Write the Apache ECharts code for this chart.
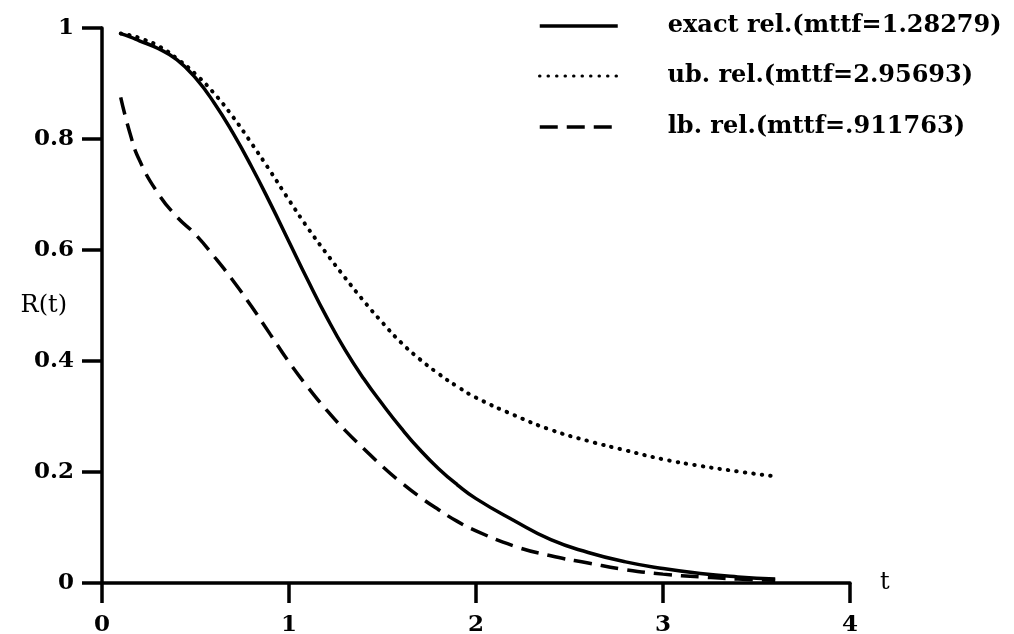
<!DOCTYPE html>
<html>
<head>
<meta charset="utf-8">
<script src="https://cdn.jsdelivr.net/npm/echarts@6/dist/echarts.min.js"></script>
<style>
  html, body { margin: 0; padding: 0; background: #fff; }
  #main { width: 1014px; height: 634px; }
</style>
</head>
<body>
<div id="main"></div>
<script>
// time points t
var tValues  = [0.1, 0.15, 0.2, 0.3, 0.4, 0.5, 0.6, 0.7, 0.8, 0.9, 1.0, 1.1, 1.2, 1.3, 1.4, 1.5, 1.6, 1.7, 1.8, 1.9, 2.0, 2.2, 2.4, 2.6, 2.8, 3.0, 3.2, 3.4, 3.6];
// exact reliability
var exactRel = [0.99, 0.984, 0.977, 0.963, 0.943, 0.91, 0.865, 0.811, 0.75, 0.684, 0.615, 0.546, 0.48, 0.42, 0.368, 0.322, 0.279, 0.24, 0.206, 0.177, 0.152, 0.113, 0.078, 0.055, 0.038, 0.026, 0.017, 0.011, 0.007];
// upper bound
var ubRel    = [0.99, 0.987, 0.982, 0.968, 0.945, 0.917, 0.882, 0.84, 0.792, 0.742, 0.69, 0.64, 0.594, 0.55, 0.508, 0.469, 0.433, 0.403, 0.377, 0.354, 0.334, 0.303, 0.276, 0.256, 0.239, 0.223, 0.211, 0.201, 0.192];
// lower bound
var lbRel    = [0.875, 0.81, 0.762, 0.702, 0.66, 0.628, 0.588, 0.545, 0.498, 0.448, 0.398, 0.353, 0.312, 0.275, 0.242, 0.21, 0.181, 0.155, 0.132, 0.111, 0.094, 0.067, 0.049, 0.036, 0.024, 0.016, 0.011, 0.007, 0.005];

var names = ['exact rel.(mttf=1.28279)', 'ub. rel.(mttf=2.95693)', 'lb. rel.(mttf=.911763)'];

function pairs(ys) {
    var out = [];
    for (var i = 0; i < tValues.length; i++) {
        out.push([tValues[i], ys[i]]);
    }
    return out;
}

var font = 'DejaVu Serif';
var chart = echarts.init(document.getElementById('main'));

function legendAt(name, top, lineWidth) {
    return {
        data: [name],
        left: 533,
        top: top,
        orient: 'vertical',
        itemWidth: 78,
        itemHeight: 14,
        selectedMode: false,
        itemStyle: { opacity: 0 },
        lineStyle: { width: lineWidth },
        textStyle: { fontFamily: font, fontSize: 24, fontWeight: 'bold', color: '#000', padding: [0, 0, 0, 45] }
    };
}

var option = {
    backgroundColor: '#fff',
    animation: false,
    legend: [
        legendAt(names[0], 9, 3.5),
        legendAt(names[1], 59, 3),
        legendAt(names[2], 110, 3.5)
    ],
    grid: { left: 102, right: 164, top: 28, bottom: 51, containLabel: false, outerBoundsMode: 'none' },
    xAxis: {
        type: 'value',
        min: 0, max: 4, interval: 1,
        name: 't',
        nameLocation: 'end',
        nameGap: 30,
        nameTextStyle: { fontFamily: font, fontSize: 24, color: '#000', verticalAlign: 'middle' },
        axisLine: { lineStyle: { color: '#000', width: 3.5 } },
        axisTick: { length: 20, lineStyle: { color: '#000', width: 3.5 } },
        axisLabel: { margin: 31, fontFamily: font, fontSize: 23, fontWeight: 'bold', color: '#000' },
        splitLine: { show: false }
    },
    yAxis: {
        type: 'value',
        min: 0, max: 1, interval: 0.2,
        name: 'R(t)',
        nameLocation: 'middle',
        nameRotate: 0,
        nameGap: 35,
        nameMoveOverlap: false,
        nameTextStyle: { fontFamily: font, fontSize: 24, color: '#000' },
        axisLine: { show: true, lineStyle: { color: '#000', width: 3.5 } },
        axisTick: { show: true, length: 20, lineStyle: { color: '#000', width: 3.5 } },
        axisLabel: { margin: 28, fontFamily: font, fontSize: 23, fontWeight: 'bold', color: '#000',
            formatter: function (v) { return v === 0 || v === 1 ? String(v) : v.toFixed(1); } },
        splitLine: { show: false }
    },
    series: [
        {
            name: names[0], type: 'line', smooth: 0.5, symbol: 'none',
            lineStyle: { color: '#000', width: 3.5 },
            itemStyle: { color: '#000' },
            data: pairs(exactRel)
        },
        {
            name: names[1], type: 'line', smooth: 0.5, symbol: 'none',
            lineStyle: { color: '#000', width: 4, type: [0.5, 8], cap: 'round' },
            itemStyle: { color: '#000' },
            data: pairs(ubRel)
        },
        {
            name: names[2], type: 'line', smooth: 0.5, symbol: 'none',
            lineStyle: { color: '#000', width: 3.5, type: [18, 9] },
            itemStyle: { color: '#000' },
            data: pairs(lbRel)
        }
    ]
};

chart.setOption(option);
</script>
</body>
</html>
